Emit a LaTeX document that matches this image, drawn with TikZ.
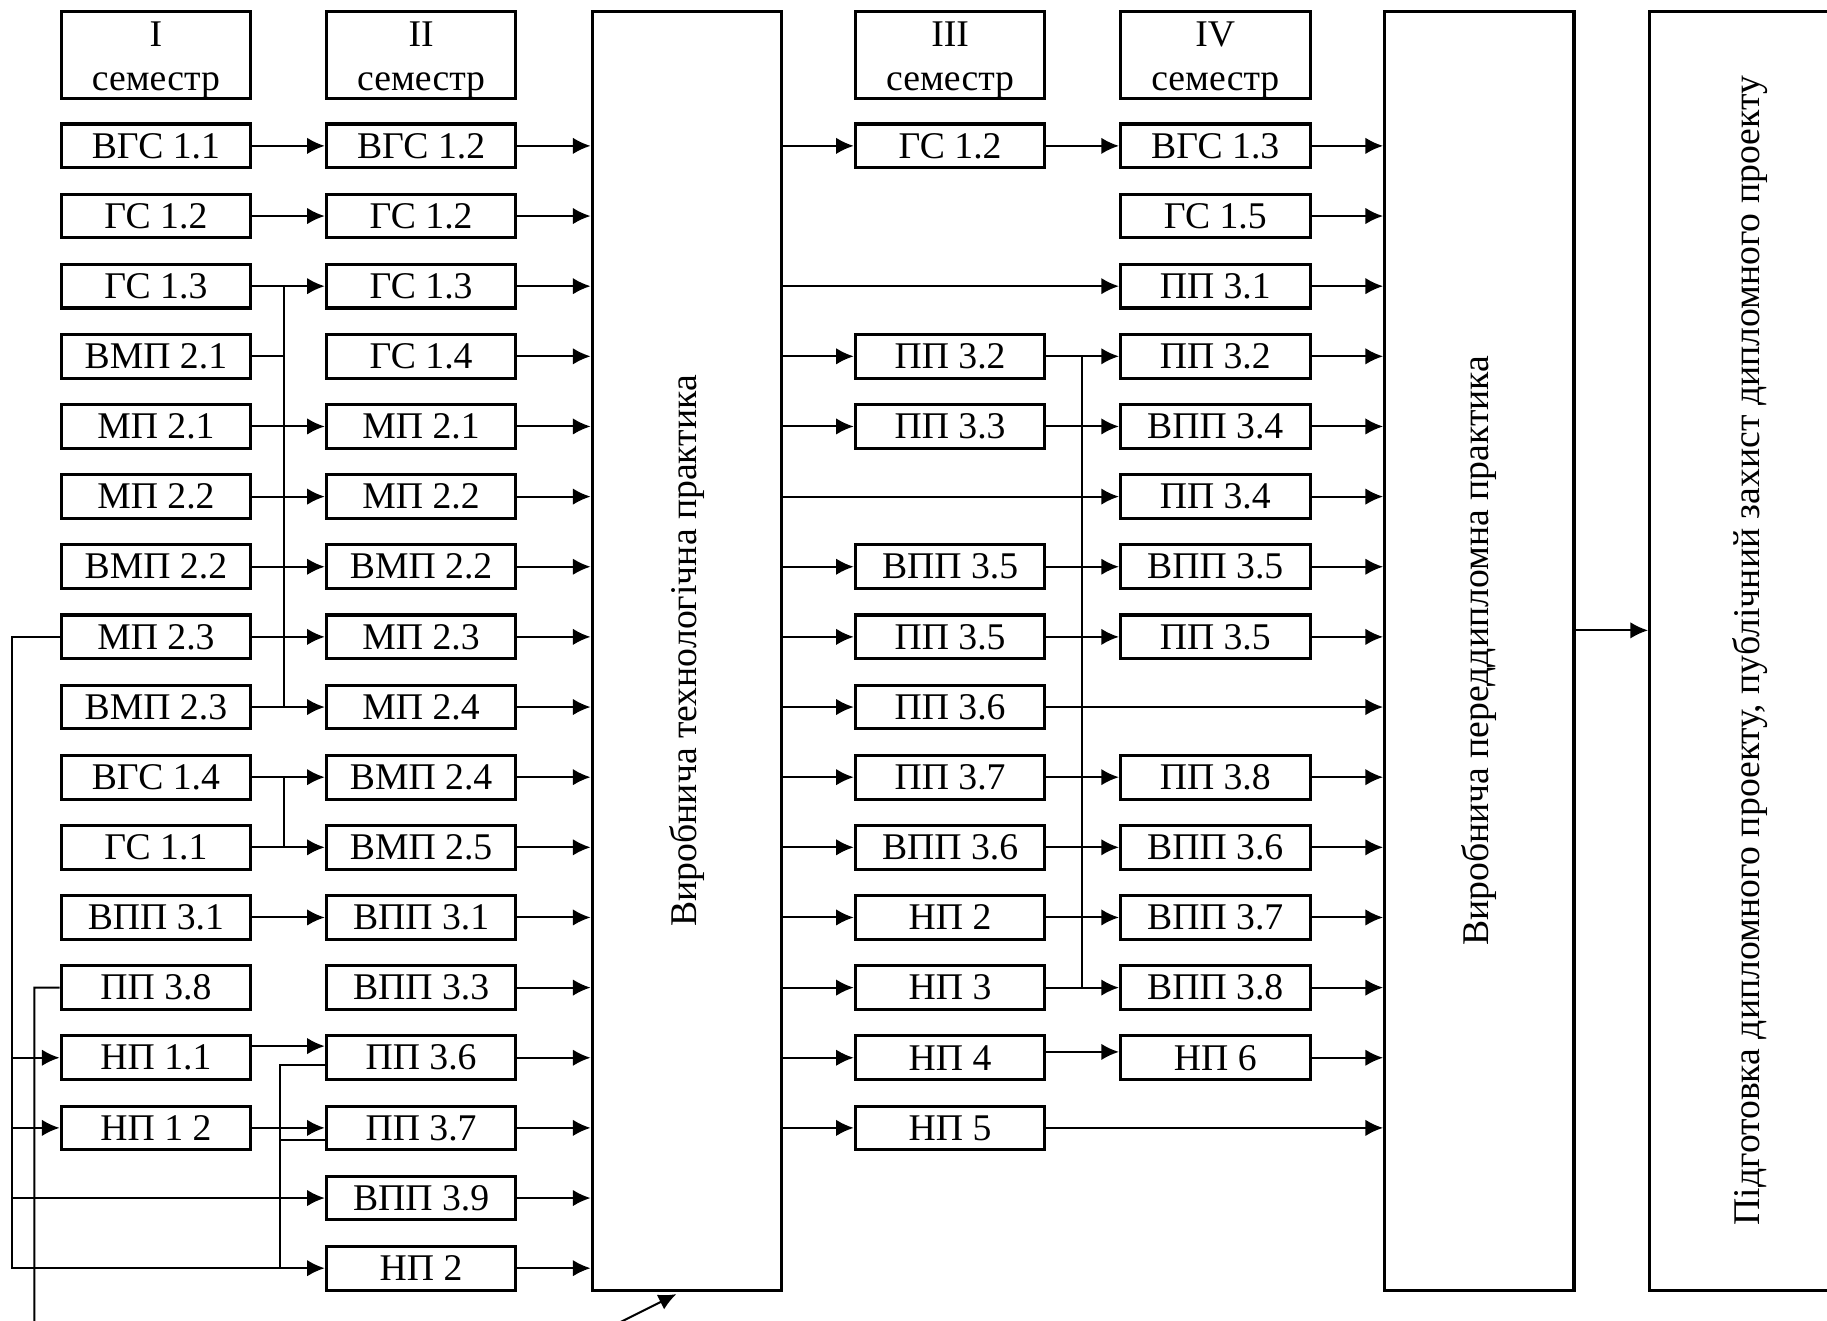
\documentclass[tikz,border=0pt]{standalone}
\usepackage{fontspec}
\setmainfont{Liberation Serif}
\usetikzlibrary{arrows.meta}

\tikzset{
  blk/.style={draw, line width=0.75pt, minimum width=1.626cm, minimum height=0.375cm, inner sep=0pt},
  sem/.style={blk, minimum height=0.735cm, align=center},
  big/.style={draw, line width=0.75pt, minimum width=1.624cm, minimum height=10.97cm, inner sep=0pt},
  arr/.style={line width=0.5pt, -{Latex[length=4.3pt,width=4pt]}},
  ln/.style={line width=0.5pt}
}
\newcommand{\semtxt}[1]{\rule{0pt}{8.7pt}#1\\семестр}

\begin{document}
\begin{tikzpicture}[x=0.01cm, y=-0.01cm, font=\fontsize{9.2}{10.6}\selectfont]
  \useasboundingbox (0,0) rectangle (1568,1133);
  \clip (0,0) rectangle (1568,1133);

  % semesters
  \node[sem] (s1) at (133.8,46.9) {\semtxt{I}};
  \node[sem] (s2) at (361.4,46.9) {\semtxt{II}};
  \node[sem] (s3) at (815.4,46.9) {\semtxt{III}};
  \node[sem] (s4) at (1043,46.9) {\semtxt{IV}};

  % practices
  \node[big] (vtp) at (589.4,558.5) {};
  \node[big] (vpp) at (1269.6,558.5) {};
  \node[big] (dip) at (1497,558.5) {};
  \node[rotate=90] (vtpt) at (vtp) {Виробнича технологічна практика};
  \node[rotate=90] (vppt) at (vpp) {Виробнича переддипломна практика};
  \node[rotate=90] (dipt) at ([xshift=0.5mm]dip.center) {Підготовка дипломного проекту, публічний захист дипломного проекту};

  % disciplines
  \foreach \lab [count=\i] in {ВГС 1.1, ГС 1.2, ГС 1.3, ВМП 2.1, МП 2.1, МП 2.2, ВМП 2.2, МП 2.3,
      ВМП 2.3, ВГС 1.4, ГС 1.1, ВПП 3.1, ПП 3.8, НП 1.1, НП 1 2}
    \node[blk] (a\i) at (133.8,{125.2+60.2*(\i-1)}) {\lab};
  \foreach \lab [count=\i] in {ВГС 1.2, ГС 1.2, ГС 1.3, ГС 1.4, МП 2.1, МП 2.2, ВМП 2.2, МП 2.3,
      МП 2.4, ВМП 2.4, ВМП 2.5, ВПП 3.1, ВПП 3.3, ПП 3.6, ПП 3.7, ВПП 3.9, НП 2}
    \node[blk] (b\i) at (361.4,{125.2+60.2*(\i-1)}) {\lab};
  \foreach \r/\lab in {1/ГС 1.2, 4/ПП 3.2, 5/ПП 3.3, 7/ВПП 3.5, 8/ПП 3.5, 9/ПП 3.6, 10/ПП 3.7,
      11/ВПП 3.6, 12/НП 2, 13/НП 3, 14/НП 4, 15/НП 5}
    \node[blk] (c\r) at (815.4,{125.2+60.2*(\r-1)}) {\lab};
  \foreach \r/\lab in {1/ВГС 1.3, 2/ГС 1.5, 3/ПП 3.1, 4/ПП 3.2, 5/ВПП 3.4, 6/ПП 3.4, 7/ВПП 3.5,
      8/ПП 3.5, 10/ПП 3.8, 11/ВПП 3.6, 12/ВПП 3.7, 13/ВПП 3.8, 14/НП 6}
    \node[blk] (d\r) at (1043,{125.2+60.2*(\r-1)}) {\lab};

  % I -> II
  \foreach \i in {1,2,3,5,6,7,8,9,10,11,12,15}
    \draw[arr] (a\i.east) -- (b\i.west);
  \draw[ln] (a4.east) -- ([xshift=2.7mm]a4.east);
  \draw[ln] ([xshift=2.7mm]a3.east) -- ([xshift=2.7mm]a9.east);
  \draw[ln] ([xshift=2.7mm]a10.east) -- ([xshift=2.7mm]a11.east);
  \draw[arr] ([yshift=1mm]a14.east) -- ([yshift=1mm]b14.west);

  \coordinate (m) at ([xshift=-4.1mm]a8.west);
  \draw[arr] (a8.west) -- (m) |- (b17.west);
  \foreach \i in {14,15}
    \draw[arr] (a\i.west -| m) -- (a\i.west);
  \draw[arr] (b16.west -| m) -- (b16.west);

  \coordinate (q) at ([xshift=-3.85mm]b17.west);
  \draw[ln] ([yshift=-0.6mm]b14.west) -| (q);
  \draw[ln] ([yshift=-1mm]b15.west) -- ++(-38.5,0);

  \draw[arr] (a13.west) -| (29.5,1160) -- (482,1160) -- ([xshift=7.36mm,yshift=-0.2mm]vtp.south west);

  % II -> vtp
  \foreach \i in {1,...,17}
    \draw[arr] (b\i.east) -- (b\i.east -| vtp.west);

  % vtp -> III, IV
  \foreach \r in {1,4,5,7,8,9,10,11,12,13,14,15}
    \draw[arr] (c\r.west -| vtp.east) -- (c\r.west);
  \foreach \r in {3,6}
    \draw[arr] (d\r.west -| vtp.east) -- (d\r.west);

  % III -> IV
  \foreach \r in {1,4,5,7,8,10,11,12,13}
    \draw[arr] (c\r.east) -- (d\r.west);
  \draw[ln] ([xshift=3.07mm]c4.east) -- ([xshift=3.07mm]c13.east);
  \draw[arr] ([yshift=0.5mm]c14.east) -- ([yshift=0.5mm]d14.west);

  % -> vpp
  \foreach \r in {9,15}
    \draw[arr] (c\r.east) -- (c\r.east -| vpp.west);
  \foreach \r in {1,...,8,10,11,12,13,14}
    \draw[arr] (d\r.east) -- (d\r.east -| vpp.west);

  \coordinate (h) at (0,541);
  \draw[arr] (vpp.east |- h) -- (dip.west |- h);
\end{tikzpicture}
\end{document}
